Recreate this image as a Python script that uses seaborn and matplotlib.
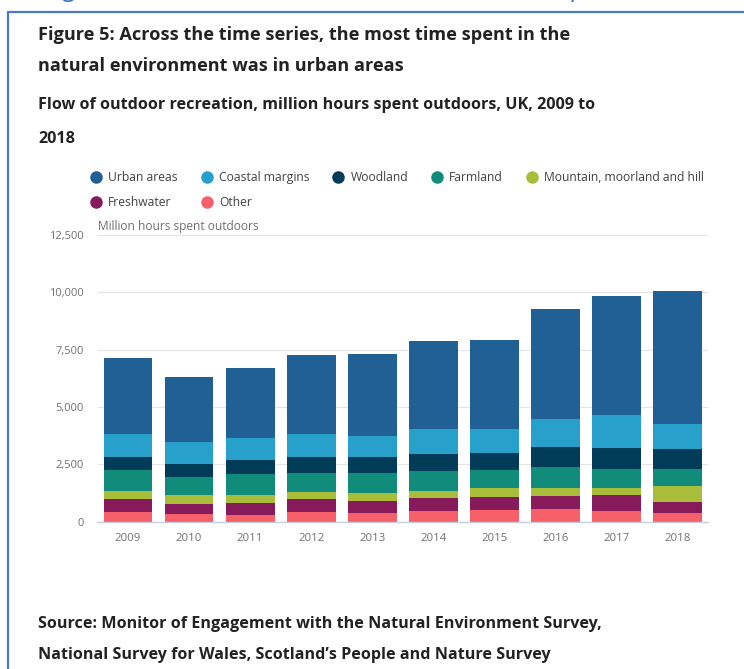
import matplotlib
matplotlib.use("Agg")
import matplotlib.pyplot as plt
from matplotlib.lines import Line2D
import pandas as pd
import seaborn as sns

# Flow of outdoor recreation, million hours spent outdoors, UK
years = [2009, 2010, 2011, 2012, 2013, 2014, 2015, 2016, 2017, 2018]
habitats = ["Urban areas", "Coastal margins", "Woodland", "Farmland",
            "Mountain, moorland and hill", "Freshwater", "Other"]

urban = [3314, 2818, 3066, 3460, 3575, 3865, 3908, 4810, 5187, 5797]
coastal = [1003, 974, 944, 973, 915, 1061, 1017, 1206, 1409, 1061]
woodland = [581, 567, 611, 712, 712, 755, 756, 886, 930, 886]
farmland = [916, 784, 915, 843, 887, 872, 799, 930, 843, 741]
mountain = [363, 407, 349, 305, 349, 320, 378, 334, 291, 712]
freshwater = [567, 436, 538, 567, 523, 552, 566, 567, 697, 465]
other = [407, 320, 276, 407, 363, 465, 509, 552, 465, 378]

colours = ["#206095", "#27a0cc", "#003c57", "#118c7b",
           "#a8bd3a", "#871a5b", "#f66068"]

yticks = [0, 2500, 5000, 7500, 10000, 12500]

series = [urban, coastal, woodland, farmland, mountain, freshwater, other]
rows = []
for name, vals in zip(habitats, series):
    for yr, v in zip(years, vals):
        rows.append({"year": yr, "habitat": name, "hours": v})
df = pd.DataFrame(rows)

sns.set_style("white")
plt.rcParams["font.family"] = ["Open Sans", "DejaVu Sans"]

W, H = 744, 669
fig = plt.figure(figsize=(W / 100, H / 100), dpi=100)
fig.patch.set_facecolor("white")

def fx(px):
    return px / W

def fy(py):
    return 1 - py / H

# page frame, and the page heading above it that is cut off by the crop
fig.add_artist(Line2D([fx(8), 1], [fy(11.5), fy(11.5)], color="#4a78c8", lw=1.6))
fig.add_artist(Line2D([fx(8), fx(8)], [fy(11.5), 0], color="#4a78c8", lw=1.6))
fig.text(fx(44), fy(-4.5), "Figure 5: Across the time series, the most time spent in the natural",
         color="#3b6fc4", fontsize=17, va="baseline")

dark = "#222222"
fig.text(fx(38), fy(35), "Figure 5: Across the time series, the most time spent in the",
         fontsize=13.1, fontweight="bold", color=dark, va="center")
fig.text(fx(38), fy(66), "natural environment was in urban areas",
         fontsize=13.1, fontweight="bold", color=dark, va="center")
fig.text(fx(38), fy(105), "Flow of outdoor recreation, million hours spent outdoors, UK, 2009 to",
         fontsize=11.6, fontweight="bold", color=dark, va="center")
fig.text(fx(38), fy(139), "2018",
         fontsize=11.6, fontweight="bold", color=dark, va="center")
fig.text(fx(38), fy(624), "Source: Monitor of Engagement with the Natural Environment Survey,",
         fontsize=11.6, fontweight="bold", color=dark, va="center")
fig.text(fx(38), fy(655), "National Survey for Wales, Scotland\u2019s People and Nature Survey",
         fontsize=11.6, fontweight="bold", color=dark, va="center")

ax = fig.add_axes([fx(97.5), fy(521.7), fx(708) - fx(97.5), fy(235) - fy(521.7)])
sns.histplot(data=df, x="year", weights="hours", hue="habitat", hue_order=habitats,
             multiple="stack", discrete=True, shrink=0.8, palette=colours,
             linewidth=0, alpha=1, legend=False, ax=ax)

ax.set_xlim(years[0] - 0.5, years[-1] + 0.5)
ax.set_ylim(yticks[0], yticks[-1])
ax.set_yticks(yticks)
ax.set_yticklabels([f"{t:,}" for t in yticks])
ax.set_xticks(years)
ax.set_xticklabels([str(y) for y in years])
ax.set_xticks([y + 0.5 for y in [years[0] - 1] + years], minor=True)
ax.tick_params(axis="x", which="major", length=0, pad=8, labelsize=8.2, labelcolor="#707071")
ax.tick_params(axis="x", which="minor", length=8, width=1, color="#c4cedd")
ax.tick_params(axis="y", length=0, pad=10, labelsize=8, labelcolor="#707071")
ax.set_xlabel("")
ax.set_ylabel("")
ax.grid(axis="y", color="#e3e3e3", lw=0.8)
ax.set_axisbelow(True)
for s in ["top", "right", "left"]:
    ax.spines[s].set_visible(False)
ax.spines["bottom"].set_color("#c4cedd")
ax.spines["bottom"].set_linewidth(1)

ax.text(0.001, 1.006, "Million hours spent outdoors", transform=ax.transAxes,
        fontsize=8.6, color="#707071", ha="left", va="bottom")

# legend, reordered so it reads left to right across two rows
handles = [Line2D([], [], marker="o", ls="", markersize=8, color=c) for c in colours]
order = [0, 5, 1, 6, 2, 3, 4]
fig.legend([handles[i] for i in order], [habitats[i] for i in order],
           ncol=5, loc="upper left", bbox_to_anchor=(fx(90), fy(171)),
           frameon=False, fontsize=8.7, labelcolor="#414042",
           handletextpad=0.5, columnspacing=1.9, labelspacing=1.0,
           handlelength=1.0, borderaxespad=0, borderpad=0)

fig.savefig("out.png", dpi=100)
